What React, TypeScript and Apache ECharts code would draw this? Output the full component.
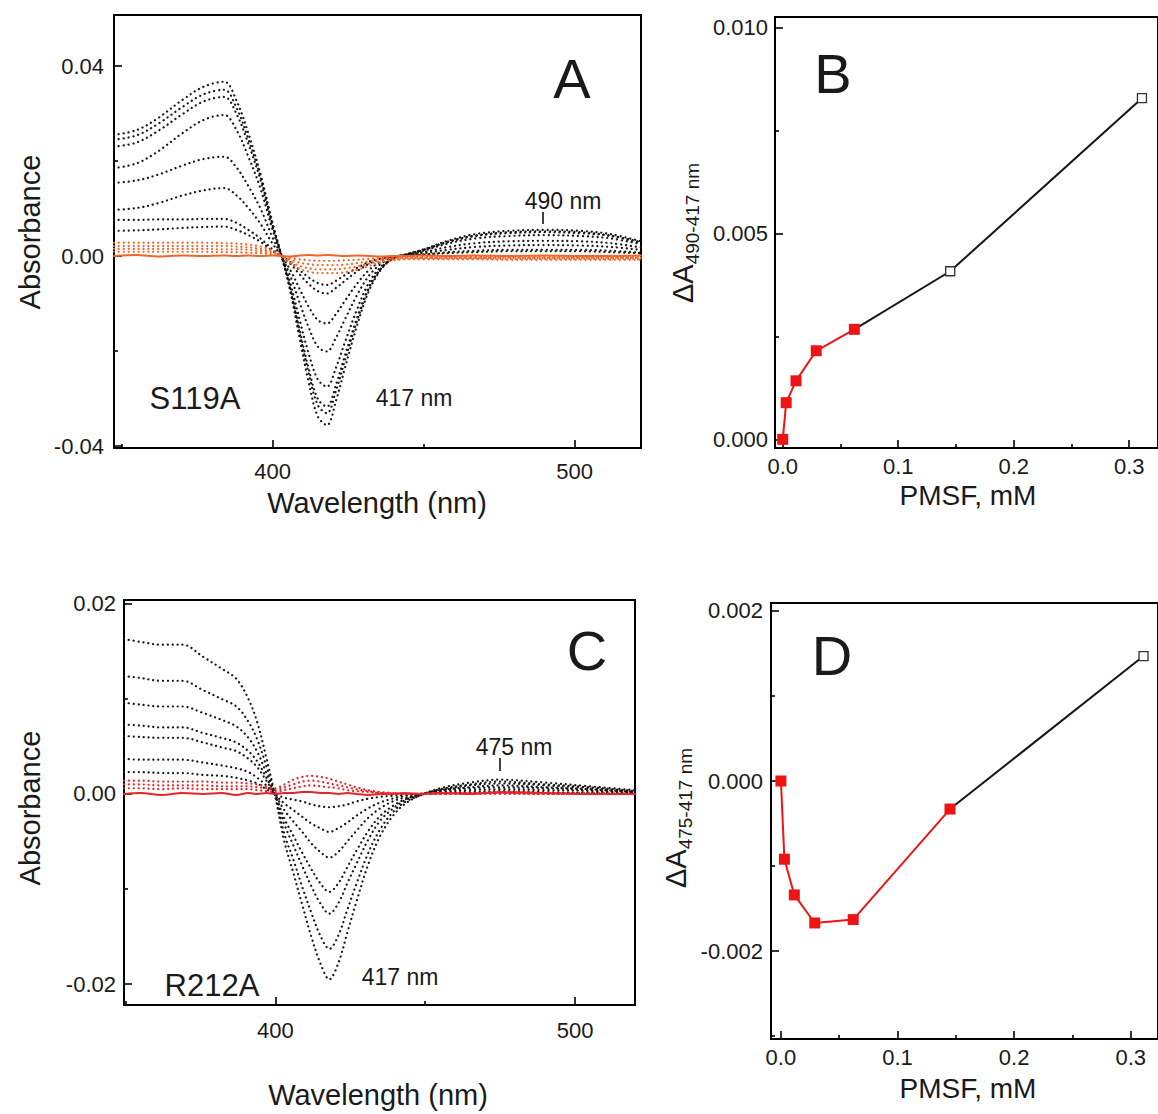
import React, { useEffect, useRef } from 'react';
import * as echarts from 'echarts';

const FONT = '"Liberation Sans", Arial, Helvetica, sans-serif';

// ---------- Panel A (S119A) spectra ----------
const WL_A = [347.5, 355, 362, 370, 377, 384, 388, 392, 396, 400, 403, 406, 409, 412, 415, 418, 421, 424, 428, 432, 436, 440, 444, 450, 458, 467, 478, 490, 502, 512, 522];
const A_S1 = [0.0255, 0.0265, 0.0290, 0.0328, 0.0356, 0.0367, 0.0328, 0.0258, 0.0173, 0.0070, 0.0000, -0.0078, -0.0175, -0.0267, -0.0338, -0.0356, -0.0305, -0.0235, -0.0146, -0.0072, -0.0028, -0.0005, 0.0003, 0.0014, 0.0032, 0.0046, 0.0053, 0.0055, 0.0053, 0.0046, 0.0031];
const A_S2 = [0.0245, 0.0254, 0.0278, 0.0313, 0.0340, 0.0350, 0.0313, 0.0246, 0.0167, 0.0065, 0.0000, -0.0073, -0.0163, -0.0248, -0.0314, -0.0331, -0.0284, -0.0219, -0.0136, -0.0067, -0.0026, -0.0005, 0.0003, 0.0013, 0.0030, 0.0043, 0.0050, 0.0052, 0.0050, 0.0043, 0.0029];
const A_S3 = [0.0230, 0.0239, 0.0263, 0.0298, 0.0325, 0.0335, 0.0300, 0.0236, 0.0160, 0.0062, 0.0000, -0.0069, -0.0156, -0.0238, -0.0301, -0.0317, -0.0271, -0.0209, -0.0130, -0.0064, -0.0025, -0.0004, 0.0003, 0.0013, 0.0029, 0.0042, 0.0048, 0.0050, 0.0048, 0.0042, 0.0028];
const A_S4 = [0.0185, 0.0195, 0.0220, 0.0258, 0.0286, 0.0297, 0.0266, 0.0209, 0.0142, 0.0055, 0.0000, -0.0060, -0.0135, -0.0206, -0.0260, -0.0275, -0.0235, -0.0181, -0.0112, -0.0055, -0.0022, -0.0004, 0.0002, 0.0011, 0.0026, 0.0037, 0.0042, 0.0044, 0.0042, 0.0037, 0.0025];
const A_S5 = [0.0154, 0.0159, 0.0171, 0.0190, 0.0204, 0.0209, 0.0187, 0.0147, 0.0100, 0.0039, 0.0000, -0.0044, -0.0099, -0.0151, -0.0191, -0.0201, -0.0172, -0.0133, -0.0082, -0.0041, -0.0016, -0.0003, 0.0002, 0.0008, 0.0019, 0.0027, 0.0031, 0.0032, 0.0031, 0.0027, 0.0018];
const A_S6 = [0.0097, 0.0101, 0.0111, 0.0127, 0.0138, 0.0143, 0.0128, 0.0101, 0.0068, 0.0026, 0.0000, -0.0031, -0.0070, -0.0107, -0.0135, -0.0142, -0.0122, -0.0094, -0.0058, -0.0029, -0.0011, -0.0002, 0.0001, 0.0006, 0.0013, 0.0019, 0.0022, 0.0023, 0.0022, 0.0019, 0.0013];
const A_S7 = [0.0076, 0.0076, 0.0077, 0.0077, 0.0078, 0.0078, 0.0070, 0.0055, 0.0037, 0.0014, 0.0000, -0.0017, -0.0039, -0.0059, -0.0074, -0.0079, -0.0067, -0.0052, -0.0032, -0.0016, -0.0006, -0.0001, 0.0001, 0.0003, 0.0008, 0.0011, 0.0013, 0.0013, 0.0013, 0.0011, 0.0007];
const A_S8 = [0.0053, 0.0054, 0.0056, 0.0059, 0.0061, 0.0062, 0.0055, 0.0044, 0.0030, 0.0011, 0.0000, -0.0013, -0.0030, -0.0045, -0.0057, -0.0061, -0.0052, -0.0040, -0.0025, -0.0012, -0.0005, -0.0001, 0.0001, 0.0003, 0.0006, 0.0008, 0.0010, 0.0010, 0.0010, 0.0008, 0.0006];
const A_O1 = [0.0028, 0.0028, 0.0028, 0.0028, 0.0028, 0.0027, 0.0026, 0.0024, 0.0020, 0.0012, 0.0000, -0.0015, -0.0027, -0.0033, -0.0036, -0.0036, -0.0036, -0.0034, -0.0029, -0.0021, -0.0014, -0.0009, -0.0007, -0.0007, -0.0007, -0.0007, -0.0008, -0.0008, -0.0008, -0.0008, -0.0008];
const A_O2 = [0.0021, 0.0021, 0.0021, 0.0021, 0.0021, 0.0021, 0.0020, 0.0018, 0.0015, 0.0009, 0.0000, -0.0012, -0.0021, -0.0026, -0.0028, -0.0028, -0.0028, -0.0026, -0.0022, -0.0016, -0.0011, -0.0007, -0.0005, -0.0005, -0.0005, -0.0005, -0.0006, -0.0006, -0.0006, -0.0006, -0.0006];
const A_O3 = [0.0015, 0.0015, 0.0015, 0.0015, 0.0015, 0.0014, 0.0014, 0.0013, 0.0011, 0.0006, 0.0000, -0.0008, -0.0014, -0.0017, -0.0019, -0.0019, -0.0019, -0.0018, -0.0015, -0.0011, -0.0007, -0.0005, -0.0004, -0.0004, -0.0004, -0.0004, -0.0004, -0.0004, -0.0004, -0.0004, -0.0004];
const A_O4 = [0.0009, 0.0009, 0.0009, 0.0009, 0.0009, 0.0008, 0.0008, 0.0007, 0.0006, 0.0003, 0.0000, -0.0004, -0.0007, -0.0009, -0.0010, -0.0010, -0.0010, -0.0009, -0.0008, -0.0006, -0.0004, -0.0003, -0.0002, -0.0002, -0.0002, -0.0002, -0.0002, -0.0002, -0.0002, -0.0002, -0.0002];
const A_OBASE = [0.0000, 0.0002, -0.0001, 0.0001, 0.0000, 0.0001, 0.0000, 0.0001, 0.0000, 0.0001, 0.0000, -0.0001, 0.0001, 0.0002, 0.0001, 0.0002, 0.0001, 0.0000, 0.0001, 0.0000, -0.0001, 0.0000, 0.0000, 0.0001, 0.0000, 0.0001, 0.0000, 0.0001, 0.0000, 0.0000, 0.0001];

// ---------- Panel C (R212A) spectra ----------
const WL_C = [349.5, 355, 362, 369, 376, 382, 387, 391, 394, 397, 400, 403, 406, 409, 412, 415, 418, 421, 424, 427, 431, 435, 439, 443, 448, 455, 465, 475, 490, 505, 520];
const C_S1 = [0.0163, 0.0160, 0.0157, 0.0157, 0.0144, 0.0132, 0.0121, 0.0100, 0.0075, 0.0038, -0.0003, -0.0050, -0.0083, -0.0117, -0.0150, -0.0178, -0.0195, -0.0178, -0.0146, -0.0114, -0.0074, -0.0044, -0.0024, -0.0011, -0.0002, 0.0006, 0.0012, 0.0015, 0.0012, 0.0008, 0.0004];
const C_S2 = [0.0124, 0.0122, 0.0119, 0.0119, 0.0109, 0.0100, 0.0092, 0.0076, 0.0057, 0.0029, -0.0002, -0.0042, -0.0069, -0.0098, -0.0125, -0.0149, -0.0163, -0.0149, -0.0122, -0.0095, -0.0062, -0.0037, -0.0020, -0.0009, -0.0002, 0.0005, 0.0010, 0.0013, 0.0010, 0.0007, 0.0003];
const C_S3 = [0.0096, 0.0094, 0.0092, 0.0092, 0.0085, 0.0078, 0.0071, 0.0059, 0.0044, 0.0022, -0.0002, -0.0032, -0.0054, -0.0076, -0.0097, -0.0115, -0.0126, -0.0115, -0.0094, -0.0074, -0.0048, -0.0028, -0.0016, -0.0007, -0.0001, 0.0004, 0.0009, 0.0011, 0.0009, 0.0006, 0.0003];
const C_S4 = [0.0073, 0.0072, 0.0070, 0.0070, 0.0064, 0.0059, 0.0054, 0.0045, 0.0034, 0.0017, -0.0001, -0.0026, -0.0044, -0.0062, -0.0079, -0.0094, -0.0103, -0.0094, -0.0077, -0.0060, -0.0039, -0.0023, -0.0013, -0.0006, -0.0001, 0.0004, 0.0007, 0.0009, 0.0007, 0.0005, 0.0002];
const C_S5 = [0.0061, 0.0060, 0.0059, 0.0059, 0.0054, 0.0049, 0.0045, 0.0037, 0.0028, 0.0014, -0.0001, -0.0017, -0.0029, -0.0040, -0.0052, -0.0061, -0.0067, -0.0061, -0.0050, -0.0039, -0.0025, -0.0015, -0.0008, -0.0004, -0.0001, 0.0003, 0.0006, 0.0007, 0.0006, 0.0004, 0.0002];
const C_S6 = [0.0037, 0.0036, 0.0036, 0.0036, 0.0033, 0.0030, 0.0027, 0.0023, 0.0017, 0.0009, -0.0001, -0.0010, -0.0017, -0.0024, -0.0031, -0.0036, -0.0040, -0.0036, -0.0030, -0.0023, -0.0015, -0.0009, -0.0005, -0.0002, 0.0000, 0.0002, 0.0004, 0.0005, 0.0004, 0.0003, 0.0001];
const C_S7 = [0.0023, 0.0023, 0.0022, 0.0022, 0.0020, 0.0019, 0.0017, 0.0014, 0.0011, 0.0005, 0.0000, -0.0004, -0.0006, -0.0008, -0.0011, -0.0013, -0.0014, -0.0013, -0.0011, -0.0008, -0.0005, -0.0003, -0.0002, -0.0001, 0.0000, 0.0001, 0.0002, 0.0003, 0.0002, 0.0001, 0.0001];
const C_R1 = [0.0014, 0.0014, 0.0013, 0.0013, 0.0013, 0.0012, 0.0012, 0.0011, 0.0010, 0.0008, 0.0006, 0.0010, 0.0015, 0.0018, 0.0019, 0.0018, 0.0016, 0.0013, 0.0010, 0.0007, 0.0004, 0.0002, 0.0001, 0.0000, 0.0000, 0.0001, 0.0001, 0.0001, 0.0001, 0.0001, 0.0000];
const C_R2 = [0.0010, 0.0010, 0.0009, 0.0009, 0.0009, 0.0008, 0.0008, 0.0008, 0.0007, 0.0006, 0.0004, 0.0007, 0.0010, 0.0013, 0.0014, 0.0013, 0.0011, 0.0009, 0.0007, 0.0005, 0.0003, 0.0001, 0.0001, 0.0000, 0.0000, 0.0000, 0.0001, 0.0001, 0.0000, 0.0000, 0.0000];
const C_R3 = [0.0006, 0.0006, 0.0005, 0.0006, 0.0005, 0.0005, 0.0005, 0.0005, 0.0004, 0.0003, 0.0002, 0.0004, 0.0006, 0.0008, 0.0009, 0.0008, 0.0007, 0.0006, 0.0004, 0.0003, 0.0002, 0.0001, 0.0000, 0.0000, 0.0000, 0.0000, 0.0000, 0.0000, 0.0000, 0.0000, 0.0000];
const C_RBASE = [0.0000, 0.0001, -0.0001, 0.0001, 0.0000, 0.0001, -0.0001, 0.0001, 0.0000, 0.0001, 0.0000, 0.0001, 0.0001, 0.0002, 0.0002, 0.0001, 0.0001, 0.0000, 0.0001, 0.0000, -0.0001, 0.0000, 0.0000, 0.0001, 0.0000, 0.0001, 0.0000, 0.0002, 0.0001, 0.0000, 0.0000];

// ---------- Panels B and D (titration) ----------
const PMSF = [0, 0.003, 0.0115, 0.029, 0.062, 0.145, 0.311];
const B_DA = [0, 0.00089, 0.00142, 0.00215, 0.00267, 0.00408, 0.00828];
const D_DA = [0, -0.00092, -0.00134, -0.00167, -0.00163, -0.00033, 0.00147];
const B_RED_COUNT = 5; // filled red points in B
const D_RED_COUNT = 6; // filled red points in D

// ---------- tick labels ----------
const WL_LABELS = [400, 500];
const WL_MINOR = [350, 450];
const A_Y_LABELS = [-0.04, 0, 0.04];
const A_Y_MINOR = [-0.02, 0.02];
const C_Y_LABELS = [-0.02, 0, 0.02];
const C_Y_MINOR = [-0.01, 0.01];
const PMSF_LABELS = [0, 0.1, 0.2, 0.3];
const PMSF_MINOR = [0.05, 0.15, 0.25];
const B_Y_LABELS = [0, 0.005, 0.01];
const B_Y_MINOR = [0.0025, 0.0075];
const D_Y_LABELS = [-0.002, 0, 0.002];
const D_Y_MINOR = [-0.003, -0.001, 0.001];

const BLACK = '#151515';
const ORANGE = '#f0662c';
const RED_C = '#e8232a';
const RED = '#ee1414';

function zip(xs: number[], ys: number[]) {
  return xs.map((x, i) => [x, ys[i]]);
}

function spectrum(xi: number, xs: number[], ys: number[], color: string, dotted: boolean, width: number, z: number) {
  return {
    type: 'line',
    xAxisIndex: xi,
    yAxisIndex: xi,
    data: zip(xs, ys),
    symbol: 'none',
    smooth: 0.35,
    z,
    silent: true,
    lineStyle: { color, width, type: dotted ? [0.1, 4.8] : 'solid', cap: 'round' },
  };
}

function mainAxis(grid: number, pos: string, min: number, max: number, labels: number[], fmt: (v: number) => string, margin: number) {
  return {
    type: 'value',
    gridIndex: grid,
    position: pos,
    min,
    max,
    axisLine: { show: false, onZero: false },
    splitLine: { show: false },
    axisTick: { show: true, inside: true, length: 8, lineStyle: { color: '#000', width: 1.6 }, customValues: labels },
    axisLabel: { show: true, customValues: labels, formatter: fmt, margin, color: '#1a1a1a', fontSize: 22, fontFamily: FONT },
  };
}

function minorAxis(grid: number, pos: string, min: number, max: number, ticks: number[]) {
  return {
    type: 'value',
    gridIndex: grid,
    position: pos,
    min,
    max,
    axisLine: { show: false, onZero: false },
    splitLine: { show: false },
    axisLabel: { show: false },
    axisTick: { show: true, inside: true, length: 4, lineStyle: { color: '#000', width: 1.6 }, customValues: ticks },
  };
}

function txt(x: number, y: number, text: string, size: number, rotate = false) {
  return {
    type: 'text',
    x,
    y,
    rotation: rotate ? Math.PI / 2 : 0,
    silent: true,
    style: { text, fontSize: size, fontFamily: FONT, fill: '#1a1a1a', align: 'center', verticalAlign: 'middle' },
  };
}

function deltaTitle(x: number, y: number, sub: string) {
  return {
    type: 'text',
    x,
    y,
    rotation: Math.PI / 2,
    silent: true,
    style: {
      text: '{a|ΔA}{s|' + sub + '}',
      align: 'center',
      verticalAlign: 'middle',
      fontFamily: FONT,
      fill: '#1a1a1a',
      rich: {
        a: { fontSize: 29, fontFamily: FONT, fill: '#1a1a1a', lineHeight: 38, verticalAlign: 'middle' },
        s: { fontSize: 19, fontFamily: FONT, fill: '#1a1a1a', lineHeight: 20, verticalAlign: 'bottom' },
      },
    },
  };
}

function titration(xi: number, ys: number[], redCount: number) {
  const redData = zip(PMSF.slice(0, redCount), ys.slice(0, redCount));
  const blackData = PMSF.slice(redCount - 1).map((x, i) => {
    const v = [x, ys[redCount - 1 + i]];
    return i === 0 ? { value: v, symbol: 'none' } : { value: v };
  });
  return [
    {
      type: 'line',
      xAxisIndex: xi,
      yAxisIndex: xi,
      data: blackData,
      symbol: 'rect',
      symbolSize: 9,
      z: 3,
      lineStyle: { color: BLACK, width: 2 },
      itemStyle: { color: '#ffffff', borderColor: '#333', borderWidth: 1.3 },
      silent: true,
    },
    {
      type: 'line',
      xAxisIndex: xi,
      yAxisIndex: xi,
      data: redData,
      symbol: 'rect',
      symbolSize: 11,
      z: 4,
      lineStyle: { color: RED, width: 2 },
      itemStyle: { color: RED },
      silent: true,
    },
  ];
}

function buildOption() {
  const fmt0 = (v: number) => String(Math.round(v));
  const fmt1 = (v: number) => v.toFixed(1);
  const fmt2 = (v: number) => v.toFixed(2);
  const fmt3 = (v: number) => v.toFixed(3);

  const gridStyle = { show: true, borderColor: '#000', borderWidth: 2, backgroundColor: 'transparent' };

  const A_X = [347.5, 522];
  const C_X = [349.5, 520];
  const B_X = [-0.0067, 0.3249];
  const D_X = [-0.0085, 0.3234];
  const A_Y = [-0.04042, 0.05074];
  const C_Y = [-0.0222, 0.0204];
  const B_Y = [-0.00021, 0.01025];
  const D_Y = [-0.003035, 0.002094];

  const series: any[] = [];
  [A_S1, A_S2, A_S3, A_S4, A_S5, A_S6, A_S7, A_S8].forEach((s) => series.push(spectrum(0, WL_A, s, BLACK, true, 2.2, 2)));
  [A_O1, A_O2, A_O3, A_O4].forEach((s) => series.push(spectrum(0, WL_A, s, ORANGE, true, 2.2, 3)));
  series.push(spectrum(0, WL_A, A_OBASE, ORANGE, false, 2, 4));

  [C_S1, C_S2, C_S3, C_S4, C_S5, C_S6, C_S7].forEach((s) => series.push(spectrum(4, WL_C, s, BLACK, true, 2.2, 2)));
  [C_R1, C_R2, C_R3].forEach((s) => series.push(spectrum(4, WL_C, s, RED_C, true, 2.2, 3)));
  series.push(spectrum(4, WL_C, C_RBASE, RED_C, false, 2, 4));

  series.push(...titration(2, B_DA, B_RED_COUNT));
  series.push(...titration(6, D_DA, D_RED_COUNT));

  return {
    animation: false,
    backgroundColor: '#ffffff',
    grid: [
      { left: 114, top: 15, width: 527, height: 433, ...gridStyle },
      { left: 775, top: 17, width: 386, height: 431, ...gridStyle },
      { left: 124, top: 600, width: 511, height: 405, ...gridStyle },
      { left: 771, top: 603, width: 390, height: 436, ...gridStyle },
    ],
    xAxis: [
      mainAxis(0, 'bottom', A_X[0], A_X[1], WL_LABELS, fmt0, 12),
      minorAxis(0, 'bottom', A_X[0], A_X[1], WL_MINOR),
      mainAxis(1, 'bottom', B_X[0], B_X[1], PMSF_LABELS, fmt1, 7),
      minorAxis(1, 'bottom', B_X[0], B_X[1], PMSF_MINOR),
      mainAxis(2, 'bottom', C_X[0], C_X[1], WL_LABELS, fmt0, 14),
      minorAxis(2, 'bottom', C_X[0], C_X[1], WL_MINOR),
      mainAxis(3, 'bottom', D_X[0], D_X[1], PMSF_LABELS, fmt1, 7),
      minorAxis(3, 'bottom', D_X[0], D_X[1], PMSF_MINOR),
    ],
    yAxis: [
      mainAxis(0, 'left', A_Y[0], A_Y[1], A_Y_LABELS, fmt2, 10),
      minorAxis(0, 'left', A_Y[0], A_Y[1], A_Y_MINOR),
      mainAxis(1, 'left', B_Y[0], B_Y[1], B_Y_LABELS, fmt3, 7),
      minorAxis(1, 'left', B_Y[0], B_Y[1], B_Y_MINOR),
      mainAxis(2, 'left', C_Y[0], C_Y[1], C_Y_LABELS, fmt2, 8),
      minorAxis(2, 'left', C_Y[0], C_Y[1], C_Y_MINOR),
      mainAxis(3, 'left', D_Y[0], D_Y[1], D_Y_LABELS, fmt3, 8),
      minorAxis(3, 'left', D_Y[0], D_Y[1], D_Y_MINOR),
    ],
    graphic: [
      txt(30, 232, 'Absorbance', 29, true),
      txt(377, 503, 'Wavelength (nm)', 29),
      txt(30, 808, 'Absorbance', 29, true),
      txt(378, 1095, 'Wavelength (nm)', 29),
      txt(968, 495, 'PMSF, mM', 28),
      txt(968, 1088, 'PMSF, mM', 28),
      deltaTitle(683, 233, '490-417 nm'),
      deltaTitle(676, 818, '475-417 nm'),
      txt(572, 78, 'A', 56),
      txt(833, 73, 'B', 56),
      txt(587, 650, 'C', 56),
      txt(832, 655, 'D', 56),
      txt(195, 398, 'S119A', 31),
      txt(414, 398, '417 nm', 23),
      txt(563, 201, '490 nm', 23),
      txt(212, 985, 'R212A', 31),
      txt(400, 977, '417 nm', 23),
      txt(514, 747, '475 nm', 23),
      { type: 'line', silent: true, shape: { x1: 543, y1: 212, x2: 543, y2: 224 }, style: { stroke: '#111', lineWidth: 1.6 } },
      { type: 'line', silent: true, shape: { x1: 500, y1: 758, x2: 500, y2: 771 }, style: { stroke: '#111', lineWidth: 1.6 } },
    ],
    series,
  };
}

export default function App() {
  const ref = useRef<HTMLDivElement>(null);
  useEffect(() => {
    document.body.style.margin = '0';
    const chart = echarts.init(ref.current as HTMLDivElement, null, { renderer: 'svg' });
    chart.setOption(buildOption() as any);
    return () => chart.dispose();
  }, []);
  return <div ref={ref} style={{ width: 1158, height: 1114, background: '#ffffff' }} />;
}
